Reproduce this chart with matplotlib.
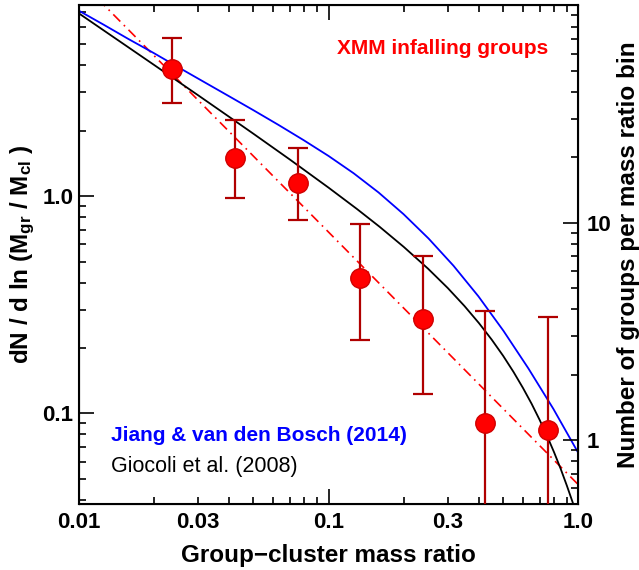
import matplotlib
matplotlib.use("Agg")
import matplotlib.pyplot as plt
from matplotlib.ticker import FixedLocator, FixedFormatter, LogLocator, NullFormatter

# XMM infalling groups, binned in group-cluster mass ratio
ratio = [0.0235, 0.0422, 0.0753, 0.1337, 0.239, 0.424, 0.753]
dndlnm = [3.83, 1.50, 1.15, 0.418, 0.271, 0.090, 0.084]
err_top = [5.33, 2.23, 1.67, 0.743, 0.530, 0.296, 0.278]
err_bot = [2.68, 0.979, 0.775, 0.218, 0.123, 1e-3, 1e-3]

# Giocoli et al. (2008) curve
gio_x = [0.01, 0.015, 0.02, 0.03, 0.04, 0.05, 0.07, 0.1, 0.13, 0.16, 0.2, 0.25, 0.3,
         0.35, 0.4, 0.45, 0.5, 0.55, 0.6, 0.65, 0.7, 0.75, 0.8, 0.85, 0.9, 0.95, 1.0]
gio_y = [6.925, 5.033, 4.012, 2.911, 2.314, 1.935, 1.472, 1.093, 0.8714, 0.7225,
         0.5835, 0.4637, 0.3776, 0.3120, 0.2603, 0.2185, 0.1841, 0.1553, 0.1311,
         0.1108, 0.0934, 0.0787, 0.0662, 0.0556, 0.0465, 0.0389, 0.0324]

# Jiang & van den Bosch (2014) curve
jvb_x = [0.01, 0.0126, 0.0158, 0.02, 0.0251, 0.0316, 0.0398, 0.0501, 0.0631, 0.0794,
         0.1, 0.1259, 0.1585, 0.1995, 0.2512, 0.3162, 0.3981, 0.5012, 0.631, 0.7943, 1.0]
jvb_y = [7.125, 6.133, 5.278, 4.542, 3.905, 3.357, 2.886, 2.480, 2.123, 1.809,
         1.529, 1.274, 1.039, 0.826, 0.6384, 0.4783, 0.3457, 0.2401, 0.1611, 0.1050, 0.0658]

# power-law fit (dash-dot)
fit_x = [0.01, 1.0]
fit_y = [9.9, 0.047]

# left axis -> number of groups per bin
counts_per_unit = 13.27
ylo, yhi = 0.0383, 7.55

plt.rcParams['font.family'] = ['Liberation Sans', 'DejaVu Sans']
plt.rcParams['font.weight'] = 'bold'
plt.rcParams['axes.labelweight'] = 'bold'
plt.rcParams['mathtext.fontset'] = 'custom'
plt.rcParams['mathtext.rm'] = 'Liberation Sans:bold'
plt.rcParams['mathtext.it'] = 'Liberation Sans:bold'
plt.rcParams['mathtext.bf'] = 'Liberation Sans:bold'

fig, ax = plt.subplots(figsize=(6.39, 5.7), dpi=100)
fig.subplots_adjust(left=0.1236, right=0.905, bottom=0.1158, top=0.9907)

ax.plot(fit_x, fit_y, color='red', lw=1.2, ls=(0, (6, 3, 1, 3)))
ax.plot(gio_x, gio_y, color='black', lw=1.3)
ax.plot(jvb_x, jvb_y, color='blue', lw=1.3)

yerr = [[v - lo for v, lo in zip(dndlnm, err_bot)],
        [hi - v for v, hi in zip(dndlnm, err_top)]]
ax.errorbar(ratio, dndlnm, yerr=yerr, fmt='o', color='red', ms=14, mec='#D00000',
            ecolor='#B00000', elinewidth=1.6, capsize=7, capthick=1.6, zorder=5)

ax.set_xscale('log')
ax.set_yscale('log')
ax.set_xlim(0.01, 1.0)
ax.set_ylim(ylo, yhi)

ax.xaxis.set_major_locator(FixedLocator([0.01, 0.1, 1.0]))
ax.xaxis.set_major_formatter(FixedFormatter(['0.01', '0.1', '1.0']))
ax.xaxis.set_minor_locator(FixedLocator([0.03, 0.3, 0.02, 0.04, 0.05, 0.06, 0.07, 0.08, 0.09,
                                         0.2, 0.4, 0.5, 0.6, 0.7, 0.8, 0.9]))
ax.xaxis.set_minor_formatter(FixedFormatter(['0.03', '0.3'] + [''] * 14))
ax.yaxis.set_major_locator(FixedLocator([0.1, 1.0]))
ax.yaxis.set_major_formatter(FixedFormatter(['0.1', '1.0']))
ax.yaxis.set_minor_locator(LogLocator(subs=range(2, 10)))
ax.yaxis.set_minor_formatter(NullFormatter())

for sp in ax.spines.values():
    sp.set_linewidth(1.5)
ax.tick_params(which='both', direction='in', top=True, right=False, width=1.2,
               labelsize=16)
ax.tick_params(which='major', length=11)
ax.tick_params(which='minor', length=5)
ax.tick_params(axis='x', which='both', pad=6)
ax.tick_params(axis='y', which='both', pad=4)

ax2 = ax.twinx()
ax2.set_yscale('log')
ax2.set_ylim(ylo * counts_per_unit, yhi * counts_per_unit)
ax2.yaxis.set_major_locator(FixedLocator([1, 10, 100]))
ax2.yaxis.set_major_formatter(FixedFormatter(['1', '10', '']))
ax2.yaxis.set_minor_locator(LogLocator(subs=range(2, 10)))
ax2.yaxis.set_minor_formatter(NullFormatter())
ax2.tick_params(which='both', direction='in', width=1.2, labelsize=16, pad=6)
ax2.tick_params(which='major', length=11)
ax2.tick_params(which='minor', length=5)

ax.set_xlabel('Group\u2212cluster mass ratio', fontsize=17.5, labelpad=8)
ax.set_ylabel(r'dN / d ln (M$_{\rm gr}$ / M$_{\rm cl}$ )', fontsize=17.5)
ax.yaxis.set_label_coords(-0.085, 0.5)
ax2.set_ylabel('Number of groups per mass ratio bin', fontsize=17.5)
ax2.yaxis.set_label_coords(1.077, 0.5)

ax.text(0.516, 0.914, 'XMM infalling groups', color='red', fontsize=15,
        fontweight='bold', transform=ax.transAxes, va='center', ha='left')
ax.text(0.064, 0.138, 'Jiang & van den Bosch (2014)', color='blue', fontsize=15,
        fontweight='bold', transform=ax.transAxes, va='center', ha='left')
ax.text(0.064, 0.075, 'Giocoli et al. (2008)', color='black', fontsize=15.5,
        fontweight='normal', transform=ax.transAxes, va='center', ha='left')

fig.savefig('out.png', dpi=100)
